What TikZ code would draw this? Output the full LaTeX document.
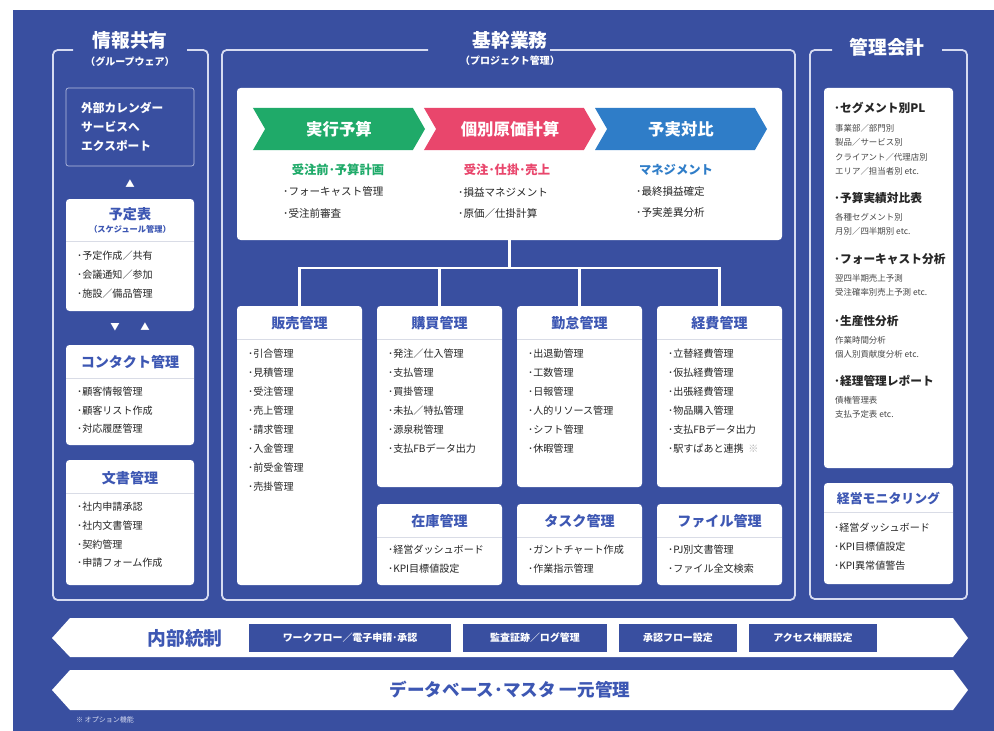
\documentclass[tikz,border=0pt]{standalone}
\usepackage{fontspec}
\setmainfont{Noto Sans CJK JP}
\usetikzlibrary{positioning,fit,calc,shapes.symbols}

\definecolor{bgblue}{HTML}{394FA0}
\definecolor{lineblue}{HTML}{D6DBF1}
\definecolor{headblue}{HTML}{3D57B3}
\definecolor{itemgray}{HTML}{262626}
\definecolor{divgray}{HTML}{D9DCE6}
\definecolor{chgreen}{HTML}{1FAA69}
\definecolor{chred}{HTML}{E9466C}
\definecolor{chblue}{HTML}{2F7DC8}

\begin{document}
\begin{tikzpicture}[x=0.03cm, y=-0.03cm,
    bracket/.style={draw=lineblue, line width=1.5pt, rounded corners=4pt},
    panel/.style={fill=white, rounded corners=3pt, inner sep=0pt},
    outbox/.style={draw=lineblue!80!bgblue, line width=0.6pt, rounded corners=2pt, inner sep=0pt},
    divider/.style={draw=divgray, line width=0.6pt},
    conn/.style={draw=white, line width=1.8pt},
    coltitle/.style={text=white, font=\fontsize{16}{18}\selectfont\bfseries},
    colsub/.style={text=white, font=\fontsize{8.5}{10}\selectfont\bfseries},
    head/.style={text=headblue, font=\fontsize{12}{14}\selectfont\bfseries},
    smallhead/.style={text=headblue, font=\fontsize{7}{8}\selectfont\bfseries},
    item/.style={text=itemgray, anchor=west, inner sep=0pt, font=\fontsize{8.6}{10}\selectfont},
    stage/.style={signal, signal from=west, signal to=east, signal pointer angle=120,
      minimum width=5.16cm, minimum height=1.26cm, inner sep=0pt, draw=none,
      text=white, font=\fontsize{14}{16}\selectfont\bfseries},
    phase/.style={font=\fontsize{10.5}{12}\selectfont\bfseries},
    acchead/.style={text=itemgray, anchor=west, inner sep=0pt, font=\fontsize{10}{12}\selectfont\bfseries},
    accsub/.style={text=itemgray!85, anchor=west, inner sep=0pt, font=\fontsize{7.2}{9}\selectfont},
    ctrl/.style={fill=bgblue, text=white, minimum height=0.84cm, inner sep=0pt,
      font=\fontsize{8.5}{10}\selectfont\bfseries},
    tri/.style={text=white, inner sep=0pt, font=\fontsize{8}{9}\selectfont}
  ]
  \useasboundingbox (0,0) rectangle (994,731);
  \fill[white] (0,0) rectangle (994,731);
  \fill[bgblue] (13,10) rectangle (994,731);

  % column frames
  \draw[bracket] (73,50) -- (53,50) -- (53,600) -- (208,600) -- (208,50) -- (187,50);
  \draw[bracket] (428,50) -- (222,50) -- (222,600) -- (795,600) -- (795,50) -- (550,50);
  \draw[bracket] (832,50) -- (810,50) -- (810,599) -- (967,599) -- (967,50) -- (942,50);

  \node[coltitle] (infoT) at (130,40) {情報共有};
  \node[colsub]   (infoS) at (130,62) {（グループウェア）};
  \node[coltitle] (coreT) at (510,40) {基幹業務};
  \node[colsub]   (coreS) at (510,61) {（プロジェクト管理）};
  \node[coltitle] (accT)  at (887,47) {管理会計};

  % left column
  \node[outbox, fit={(66,88) (194,166)}] (export) {};
  \node[anchor=north west, align=left, inner sep=0pt, text=white,
        font=\fontsize{10}{16.2}\selectfont\bfseries] (exportT) at (81,102) {外部カレンダー\\サービスへ\\エクスポート};
  \node[tri] (up1) at (130,184) {▲};

  \node[panel, fit={(66,199) (194,311)}] (yotei) {};
  \node[head] (yoteiH) at (130,214) {予定表};
  \node[smallhead] (yoteiS) at (130,229) {（スケジュール管理）};
  \draw[divider] (66,241) -- (194,241);
  \foreach \t [count=\i from 0] in {･予定作成／共有, ･会議通知／参加, ･施設／備品管理}
    \node[item, name=yt\i] at (77,256+19*\i) {\t};

  \node[tri] (down2) at (115,327) {▼};
  \node[tri] (up2) at (145,327) {▲};

  \node[panel, fit={(66,345) (194,445)}] (contact) {};
  \node[head] (contactH) at (130,362) {コンタクト管理};
  \draw[divider] (66,378) -- (194,378);
  \foreach \t [count=\i from 0] in {･顧客情報管理, ･顧客リスト作成, ･対応履歴管理}
    \node[item, name=ct\i] at (77,392+18.5*\i) {\t};

  \node[panel, fit={(66,460) (194,585)}] (bunsho) {};
  \node[head] (bunshoH) at (130,478) {文書管理};
  \draw[divider] (66,493) -- (194,493);
  \foreach \t [count=\i from 0] in {･社内申請承認, ･社内文書管理, ･契約管理, ･申請フォーム作成}
    \node[item, name=bs\i] at (77,507+18.7*\i) {\t};

  % core business
  \node[panel, fit={(237,88) (782,240)}] (core) {};
  \node[stage, fill=chgreen] (jikko) at (339,129) {実行予算};
  \node[stage, fill=chred]   (genka) at (510,129) {個別原価計算};
  \node[stage, fill=chblue]  (yojitsu) at (681,129) {予実対比};

  \node[phase, text=chgreen] (jikkoP) at (338,170) {受注前･予算計画};
  \node[phase, text=chred]   (genkaP) at (507,170) {受注･仕掛･売上};
  \node[phase, text=chblue]  (yojitsuP) at (676,170) {マネジメント};
  \foreach \t [count=\i from 0] in {･フォーキャスト管理, ･受注前審査}
    \node[item, name=jk\i, font=\fontsize{9}{10}\selectfont] at (283,192+21*\i) {\t};
  \foreach \t [count=\i from 0] in {･損益マネジメント, ･原価／仕掛計算}
    \node[item, name=gk\i, font=\fontsize{9}{10}\selectfont] at (458,192+21*\i) {\t};
  \foreach \t [count=\i from 0] in {･最終損益確定, ･予実差異分析}
    \node[item, name=yj\i, font=\fontsize{9}{10}\selectfont] at (636,192+21*\i) {\t};

  \node[panel, fit={(237,306) (362,585)}] (hanbai) {};
  \node[panel, fit={(377,306) (502,487)}] (koubai) {};
  \node[panel, fit={(517,306) (642,487)}] (kintai) {};
  \node[panel, fit={(657,306) (782,487)}] (keihi) {};
  \node[panel, fit={(377,504) (502,585)}] (zaiko) {};
  \node[panel, fit={(517,504) (642,585)}] (task) {};
  \node[panel, fit={(657,504) (782,585)}] (file) {};

  \coordinate (jct) at (core.south |- 0,268);
  \draw[conn] (core.south) -- (jct);
  \draw[conn] (hanbai.north) |- (jct);
  \draw[conn] (koubai.north) |- (jct);
  \draw[conn] (kintai.north) |- (jct);
  \draw[conn] (keihi.north) |- (jct);

  \node[head] (hanbaiH) at (299.5,323) {販売管理};
  \node[head] (koubaiH) at (439.5,323) {購買管理};
  \node[head] (kintaiH) at (579.5,323) {勤怠管理};
  \node[head] (keihiH)  at (719.5,323) {経費管理};
  \node[head] (zaikoH)  at (439.5,521) {在庫管理};
  \node[head] (taskH)   at (579.5,521) {タスク管理};
  \node[head] (fileH)   at (719.5,521) {ファイル管理};
  \foreach \xa/\xb/\ya in {237/362/339, 377/502/339, 517/642/339, 657/782/339,
                           377/502/537, 517/642/537, 657/782/537}
    \draw[divider] (\xa,\ya) -- (\xb,\ya);

  \foreach \t [count=\i from 0] in {･引合管理, ･見積管理, ･受注管理, ･売上管理,
                                    ･請求管理, ･入金管理, ･前受金管理, ･売掛管理}
    \node[item, name=hb\i] at (248,354+19*\i) {\t};
  \foreach \t [count=\i from 0] in {･発注／仕入管理, ･支払管理, ･買掛管理,
                                    ･未払／特払管理, ･源泉税管理, ･支払FBデータ出力}
    \node[item, name=kb\i] at (388,354+19*\i) {\t};
  \foreach \t [count=\i from 0] in {･出退勤管理, ･工数管理, ･日報管理,
                                    ･人的リソース管理, ･シフト管理, ･休暇管理}
    \node[item, name=kt\i] at (528,354+19*\i) {\t};
  \foreach \t [count=\i from 0] in {･立替経費管理, ･仮払経費管理, ･出張経費管理,
                                    ･物品購入管理, ･支払FBデータ出力, ･駅すぱあと連携\ \ {\color{gray!60}※}}
    \node[item, name=kh\i] at (668,354+19*\i) {\t};
  \foreach \t [count=\i from 0] in {･経営ダッシュボード, ･KPI目標値設定}
    \node[item, name=zk\i] at (388,550+19*\i) {\t};
  \foreach \t [count=\i from 0] in {･ガントチャート作成, ･作業指示管理}
    \node[item, name=tk\i] at (528,550+19*\i) {\t};
  \foreach \t [count=\i from 0] in {･PJ別文書管理, ･ファイル全文検索}
    \node[item, name=fl\i] at (668,550+19*\i) {\t};

  % management accounting
  \node[panel, fit={(824,88) (953,468)}] (kanri) {};
  \node[acchead] (plH) at (834,108) {･セグメント別PL};
  \foreach \t [count=\i from 0] in {事業部／部門別, 製品／サービス別, クライアント／代理店別, エリア／担当者別 etc.}
    \node[accsub, name=pl\i] at (835,128+14.5*\i) {\t};
  \node[acchead] (ybH) at (834,198) {･予算実績対比表};
  \foreach \t [count=\i from 0] in {各種セグメント別, 月別／四半期別 etc.}
    \node[accsub, name=yb\i] at (835,217+14.5*\i) {\t};
  \node[acchead] (fcH) at (834,259) {･フォーキャスト分析};
  \foreach \t [count=\i from 0] in {翌四半期売上予測, 受注確率別売上予測 etc.}
    \node[accsub, name=fc\i] at (835,278+14.5*\i) {\t};
  \node[acchead] (ssH) at (834,321) {･生産性分析};
  \foreach \t [count=\i from 0] in {作業時間分析, 個人別貢献度分析 etc.}
    \node[accsub, name=ss\i] at (835,340+14.5*\i) {\t};
  \node[acchead] (krH) at (834,381) {･経理管理レポート};
  \foreach \t [count=\i from 0] in {債権管理表, 支払予定表 etc.}
    \node[accsub, name=kr\i] at (835,400+14.5*\i) {\t};

  \node[panel, fit={(824,483) (953,584)}] (monitor) {};
  \node[head, font=\fontsize{11}{13}\selectfont\bfseries] (monitorH) at (888.5,498) {経営モニタリング};
  \draw[divider] (824,512) -- (953,512);
  \foreach \t [count=\i from 0] in {･経営ダッシュボード, ･KPI目標値設定, ･KPI異常値警告}
    \node[item, name=mn\i] at (834,528+19*\i) {\t};

  % bottom bands
  \fill[white] (70,618) -- (953,618) -- (968,638) -- (953,657) -- (70,657) -- (52,638) -- cycle;
  \fill[white] (70,670) -- (953,670) -- (968,690) -- (953,710) -- (70,710) -- (52,690) -- cycle;
  \node[text=headblue, font=\fontsize{16}{18}\selectfont\bfseries] (naibu) at (185,638) {内部統制};
  \node[ctrl, minimum width=6.06cm] (wf)   at (350,638) {ワークフロー／電子申請･承認};
  \node[ctrl, minimum width=4.32cm] (log)  at (535,638) {監査証跡／ログ管理};
  \node[ctrl, minimum width=3.54cm] (flow) at (678,638) {承認フロー設定};
  \node[ctrl, minimum width=3.84cm] (acl)  at (813,638) {アクセス権限設定};
  \node[text=headblue, font=\fontsize{15}{17}\selectfont\bfseries] (db) at (510,690) {データベース･マスタ 一元管理};
  \node[anchor=west, text=lineblue, font=\fontsize{6}{7}\selectfont] (note) at (72,720) {※ オプション機能};
\end{tikzpicture}
\end{document}
